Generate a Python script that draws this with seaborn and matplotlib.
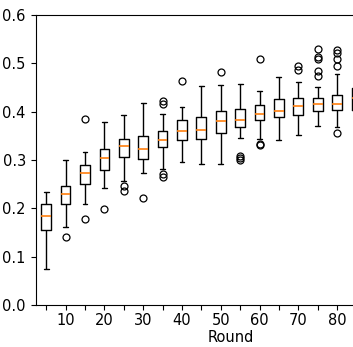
import pandas as pd
import seaborn as sns
from matplotlib import pyplot as plt

# summary values, one entry per round
rounds = [5, 10, 15, 20, 25, 30, 35, 40, 45, 50, 55, 60, 65, 70, 75, 80, 85]
whis_lo = [0.075, 0.161, 0.208, 0.242, 0.256, 0.274, 0.286, 0.295, 0.291,
           0.291, 0.346, 0.343, 0.342, 0.351, 0.370, 0.369, 0.370]
q1 = [0.155, 0.208, 0.250, 0.280, 0.306, 0.302, 0.327, 0.342, 0.344,
      0.356, 0.368, 0.382, 0.390, 0.393, 0.402, 0.404, 0.404]
median = [0.185, 0.229, 0.273, 0.304, 0.330, 0.322, 0.341, 0.361, 0.362,
          0.380, 0.383, 0.396, 0.402, 0.411, 0.416, 0.416, 0.428]
q3 = [0.210, 0.247, 0.290, 0.322, 0.344, 0.349, 0.360, 0.382, 0.390,
      0.402, 0.406, 0.413, 0.427, 0.429, 0.429, 0.434, 0.449]
whis_hi = [0.233, 0.301, 0.316, 0.378, 0.393, 0.418, 0.395, 0.410, 0.453,
           0.456, 0.458, 0.442, 0.471, 0.462, 0.452, 0.478, 0.490]
fliers_lo = [[], [0.141], [0.178], [0.199], [0.236, 0.246], [0.221],
             [0.264, 0.272, 0.281], [], [], [], [0.301, 0.305, 0.309],
             [0.332, 0.334], [], [], [], [0.356], []]
fliers_hi = [[], [], [0.384], [], [], [], [0.415, 0.423], [0.463], [],
             [0.482], [], [0.510], [], [0.486, 0.495],
             [0.473, 0.485, 0.509, 0.514, 0.530],
             [0.495, 0.509, 0.521, 0.527], []]

params = {
    'axes.edgecolor': 'black',
    'xtick.color': 'black',
    'ytick.color': 'black',
    'text.color': 'black',
    'axes.labelcolor': 'black',
}
sns.set_style("ticks", params)
plt.rcParams['font.size'] = 10.5


def group_values(i):
    # values whose quartiles / whiskers / outliers equal the read statistics
    lows = sorted(fliers_lo[i]) + [whis_lo[i]]
    highs = [whis_hi[i]] + sorted(fliers_hi[i])
    k = max(len(lows), len(highs))
    return (lows + [q1[i]] * (2 * k - len(lows)) + [median[i]]
            + [q3[i]] * (2 * k - len(highs)) + highs)


rows = []
for i, r in enumerate(rounds):
    for v in group_values(i):
        rows.append({'Round': r, 'value': v})
frame = pd.DataFrame(rows)

fig = plt.figure(figsize=(3.53, 3.47), dpi=100)
# axes runs past the right edge: the picture is a crop of a wider chart
ax = fig.add_axes([0.1006, 0.121, 1.107, 0.8357])

sns.boxplot(data=frame, x='Round', y='value', order=rounds,
            fill=False, color='black', width=0.5, linewidth=1.0,
            medianprops={'color': '#ff7f0e', 'linewidth': 1.2},
            flierprops={'marker': 'o', 'markerfacecolor': 'none',
                        'markeredgecolor': 'black', 'markersize': 5,
                        'markeredgewidth': 0.9},
            ax=ax)

ax.set_xlim(-0.55, 19.6)
ax.set_ylim(0, 0.6)
ax.set_yticks([0.0, 0.1, 0.2, 0.3, 0.4, 0.5, 0.6])
ax.set_xticks(range(len(rounds)))
ax.set_xticklabels([str(r) if r % 10 == 0 else '' for r in rounds])
ax.tick_params(axis='x', pad=2.5)
ax.set_xlabel('Round', labelpad=1)
ax.set_ylabel('')

plt.savefig('out.png', dpi=100)
